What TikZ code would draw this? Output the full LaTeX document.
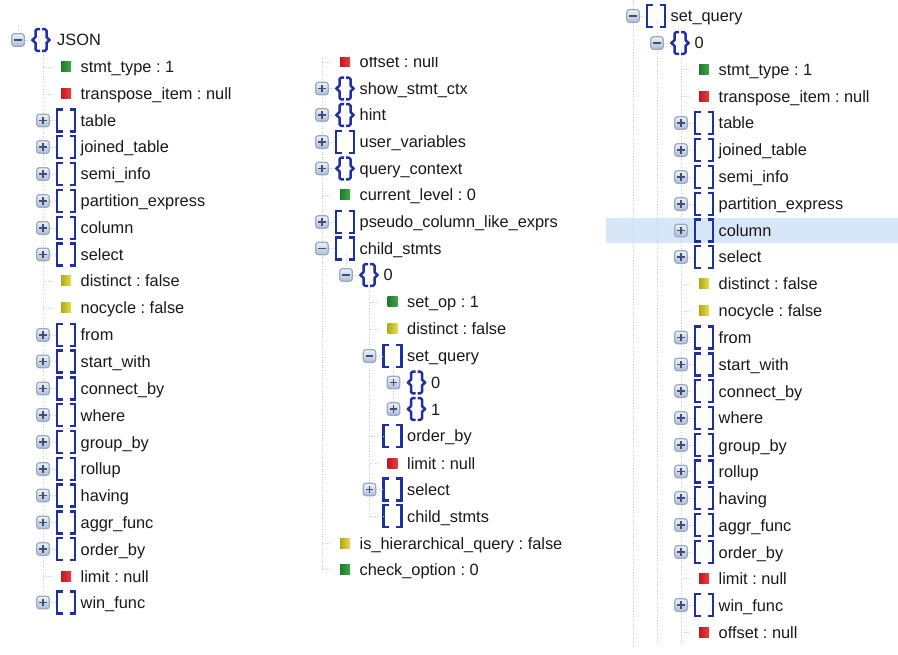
\documentclass[tikz,border=0pt]{standalone}
\usepackage{fontspec}
\setmainfont{Liberation Sans}
\definecolor{iconblue}{HTML}{1F2FA6}
\definecolor{rowhl}{HTML}{D8E7F8}
\definecolor{guide}{HTML}{CCCCCC}
\definecolor{expedge}{HTML}{9AAAC2}
\definecolor{exptop}{HTML}{EEF2F7}
\definecolor{expfill}{HTML}{AEBDD4}
\definecolor{expsigncol}{HTML}{3F4F78}
\definecolor{gdark}{HTML}{1E7A2A}
\definecolor{glight}{HTML}{3FA84A}
\definecolor{rdark}{HTML}{C01820}
\definecolor{rlight}{HTML}{E84040}
\definecolor{ydark}{HTML}{B0A818}
\definecolor{ylight}{HTML}{E6DE50}
\tikzset{
  treelabel/.style={anchor=west,inner sep=0pt,font=\fontsize{16.35}{16}\selectfont\frenchspacing,text=black!90,text height=12pt,text depth=0pt},
  dotline/.style={draw=guide,line width=0.9pt,dash pattern=on 1pt off 1.6pt},
  expander/.style={draw=expedge,line width=1.2pt,rounded corners=2.5pt,minimum size=12.5pt,inner sep=0pt,
    top color=exptop,bottom color=expfill},
  expsign/.style={draw=expsigncol,line width=1.2pt},
  leafbox/.style={minimum size=10pt,inner sep=0pt,draw=none,shade,shading=axis,shading angle=45},
  green leaf/.style={leafbox,left color=gdark,right color=glight},
  red leaf/.style={leafbox,left color=rdark,right color=rlight},
  yellow leaf/.style={leafbox,left color=ydark,right color=ylight},
  icon line/.style={draw=iconblue,line width=2.9pt,line cap=butt},
}
\newcommand{\expplus}[3]{\node[expander] (#1) at (#2,#3) {};
  \draw[expsign] ([xshift=-3.8pt]#1.center) -- ([xshift=3.8pt]#1.center);
  \draw[expsign] ([yshift=-3.8pt]#1.center) -- ([yshift=3.8pt]#1.center);}
\newcommand{\expminus}[3]{\node[expander] (#1) at (#2,#3) {};
  \draw[expsign] ([xshift=-3.8pt]#1.center) -- ([xshift=3.8pt]#1.center);}
\newcommand{\bracketicon}[3]{\coordinate (#1) at (#2,#3);
  \draw[icon line] ([shift={(-3.5pt,-11pt)}]#1) -- ++(-5.5pt,0) -- ++(0,22pt) -- ++(5.5pt,0);
  \draw[icon line] ([shift={(3.5pt,-11pt)}]#1) -- ++(5.5pt,0) -- ++(0,22pt) -- ++(-5.5pt,0);}
\newcommand{\braceicon}[3]{\coordinate (#1) at (#2,#3);
  \draw[icon line,line width=2.5pt,line join=round] ([shift={(-1pt,-10.8pt)}]#1) -- ++(-3pt,0) -- ++(-1.5pt,1.5pt) -- ++(0,6.5pt) -- ++(-3.2pt,2.8pt) -- ++(3.2pt,2.8pt) -- ++(0,6.5pt) -- ++(1.5pt,1.5pt) -- ++(3pt,0);
  \draw[icon line,line width=2.5pt,line join=round] ([shift={(1pt,-10.8pt)}]#1) -- ++(3pt,0) -- ++(1.5pt,1.5pt) -- ++(0,6.5pt) -- ++(3.2pt,2.8pt) -- ++(-3.2pt,2.8pt) -- ++(0,6.5pt) -- ++(-1.5pt,1.5pt) -- ++(-3pt,0);}
\newcommand{\leafrow}[5]{%
  \coordinate (#1g) at (#2,#3);
  \node[#4 leaf] (#1i) at (#2+23,#3) {};
  \draw[dotline] (#1g) -- ([xshift=-9pt]#1i.west);
  \node[treelabel] (#1t) at (#2+37.5,#3) {#5};}
\newcommand{\stub}[1]{\draw[dotline] (#1e.east) -- ([xshift=-9.5pt]#1i);}
\newcommand{\plusbr}[4]{\expplus{#1e}{#2}{#3}\bracketicon{#1i}{#2+23}{#3}\stub{#1}\node[treelabel] (#1t) at (#2+37.5,#3) {#4};}
\newcommand{\plusbc}[4]{\expplus{#1e}{#2}{#3}\braceicon{#1i}{#2+23}{#3}\stub{#1}\node[treelabel] (#1t) at (#2+37.5,#3) {#4};}
\newcommand{\minusbr}[4]{\expminus{#1e}{#2}{#3}\bracketicon{#1i}{#2+23}{#3}\stub{#1}\node[treelabel] (#1t) at (#2+37.5,#3) {#4};}
\newcommand{\minusbc}[4]{\expminus{#1e}{#2}{#3}\braceicon{#1i}{#2+23}{#3}\stub{#1}\node[treelabel] (#1t) at (#2+37.5,#3) {#4};}
\begin{document}
\begin{tikzpicture}[x=1pt,y=-1pt]
\useasboundingbox (0,0) rectangle (898,655);
\fill[white] (0,0) rectangle (898,655);
\fill[rowhl] (606,218) rectangle (898,243);
% --- guides ---
\coordinate (La) at (18,25); \coordinate (Lb) at (18,34);
\draw[dotline] (La) -- (Lb);
\coordinate (Lc) at (43,50); \coordinate (Ld) at (43,602);
\draw[dotline] (Lc) -- (Ld);
\coordinate (Ma) at (322,58); \coordinate (Mb) at (322,570);
\draw[dotline] (Ma) -- (Mb);
\coordinate (Mc) at (346,255); \coordinate (Md) at (346,268);
\draw[dotline] (Mc) -- (Md);
\coordinate (Me) at (369.5,282); \coordinate (Mf) at (369.5,516);
\draw[dotline] (Me) -- (Mf);
\coordinate (Mg) at (393.5,362); \coordinate (Mh) at (393.5,409);
\draw[dotline] (Mg) -- (Mh);
\coordinate (Ra) at (633,0); \coordinate (Rb) at (633,645);
\draw[dotline] (Ra) -- (Rb);
\coordinate (Rc) at (657,22); \coordinate (Rd) at (657,645);
\draw[dotline] (Rc) -- (Rd);
\coordinate (Re) at (681,50); \coordinate (Rf) at (681,645);
\draw[dotline] (Re) -- (Rf);
% --- left tree ---
\minusbc{ljson}{18}{40}{}
\node[treelabel] (ljsont2) at (57,40) {JSON};
\leafrow{l1}{43}{67}{green}{stmt\_type : 1}
\leafrow{l2}{43}{94}{red}{transpose\_item : null}
\plusbr{l3}{43}{120.5}{table}
\plusbr{l4}{43}{147}{joined\_table}
\plusbr{l5}{43}{174}{semi\_info}
\plusbr{l6}{43}{201}{partition\_express}
\plusbr{l7}{43}{228}{column}
\plusbr{l8}{43}{254.5}{select}
\leafrow{l9}{43}{281}{yellow}{distinct : false}
\leafrow{l10}{43}{308}{yellow}{nocycle : false}
\plusbr{l11}{43}{335}{from}
\plusbr{l12}{43}{361.5}{start\_with}
\plusbr{l13}{43}{388.5}{connect\_by}
\plusbr{l14}{43}{415}{where}
\plusbr{l15}{43}{442}{group\_by}
\plusbr{l16}{43}{469}{rollup}
\plusbr{l17}{43}{495.5}{having}
\plusbr{l18}{43}{522.5}{aggr\_func}
\plusbr{l19}{43}{549}{order\_by}
\leafrow{l20}{43}{576}{red}{limit : null}
\plusbr{l21}{43}{602.5}{win\_func}
% --- middle tree ---
\begin{scope}
\clip (300,57.5) rectangle (600,75);
\leafrow{m0}{322}{62}{red}{offset : null}
\end{scope}
\plusbc{m1}{322}{88.5}{show\_stmt\_ctx}
\plusbc{m2}{322}{115}{hint}
\plusbr{m3}{322}{142}{user\_variables}
\plusbc{m4}{322}{168.5}{query\_context}
\leafrow{m5}{322}{195}{green}{current\_level : 0}
\plusbr{m6}{322}{222}{pseudo\_column\_like\_exprs}
\minusbr{m7}{322}{248.5}{child\_stmts}
\minusbc{m8}{346}{275}{0}
\leafrow{m9}{369.5}{302}{green}{set\_op : 1}
\leafrow{m10}{369.5}{329}{yellow}{distinct : false}
\minusbr{m11}{369.5}{356}{set\_query}
\plusbc{m12}{393.5}{382.5}{0}
\plusbc{m13}{393.5}{409}{1}
\coordinate (m14g) at (369.5,436); \bracketicon{m14i}{392.5}{436}
\draw[dotline] (m14g) -- ([xshift=-9pt]m14i);
\node[treelabel] (m14t) at (407,436) {order\_by};
\leafrow{m15}{369.5}{463}{red}{limit : null}
\plusbr{m16}{369.5}{489.5}{select}
\coordinate (m17g) at (369.5,516); \bracketicon{m17i}{392.5}{516}
\draw[dotline] (m17g) -- ([xshift=-9pt]m17i);
\node[treelabel] (m17t) at (407,516) {child\_stmts};
\leafrow{m18}{322}{543}{yellow}{is\_hierarchical\_query : false}
\leafrow{m19}{322}{569.5}{green}{check\_option : 0}
% --- right tree ---
\minusbr{r0}{633}{16}{set\_query}
\minusbc{r1}{657}{43}{0}
\leafrow{r2}{681}{69.5}{green}{stmt\_type : 1}
\leafrow{r3}{681}{96.5}{red}{transpose\_item : null}
\plusbr{r4}{681}{123}{table}
\plusbr{r5}{681}{150}{joined\_table}
\plusbr{r6}{681}{177}{semi\_info}
\plusbr{r7}{681}{204}{partition\_express}
\plusbr{r8}{681}{230.5}{column}
\plusbr{r9}{681}{257}{select}
\leafrow{r10}{681}{284}{yellow}{distinct : false}
\leafrow{r11}{681}{311}{yellow}{nocycle : false}
\plusbr{r12}{681}{337.5}{from}
\plusbr{r13}{681}{364.5}{start\_with}
\plusbr{r14}{681}{391}{connect\_by}
\plusbr{r15}{681}{418}{where}
\plusbr{r16}{681}{445}{group\_by}
\plusbr{r17}{681}{471.5}{rollup}
\plusbr{r18}{681}{498}{having}
\plusbr{r19}{681}{525}{aggr\_func}
\plusbr{r20}{681}{552}{order\_by}
\leafrow{r21}{681}{578.5}{red}{limit : null}
\plusbr{r22}{681}{605}{win\_func}
\leafrow{r23}{681}{632}{red}{offset : null}
\end{tikzpicture}
\end{document}
